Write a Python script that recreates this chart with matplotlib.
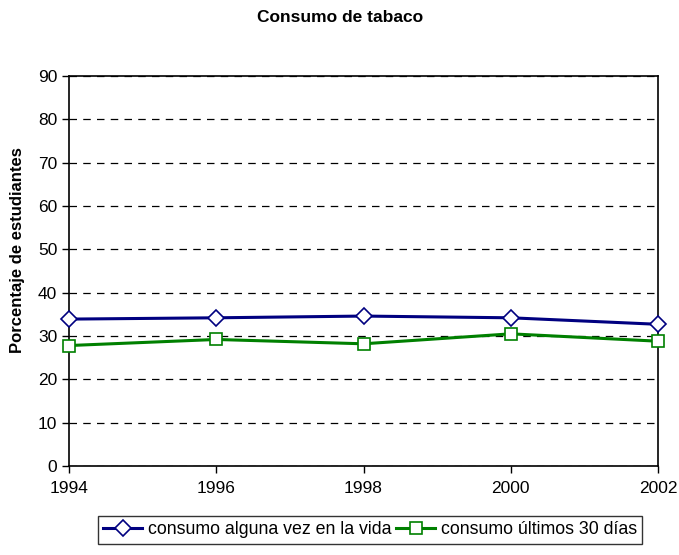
import matplotlib.pyplot as plt

# datos
anios = [1994, 1996, 1998, 2000, 2002]
alguna_vez = [33.9, 34.2, 34.6, 34.2, 32.7]
ultimos_30 = [27.8, 29.2, 28.2, 30.5, 28.8]
etiquetas = ['consumo alguna vez en la vida', 'consumo últimos 30 días']

plt.rcParams['font.family'] = ['Liberation Sans', 'DejaVu Sans']

fig = plt.figure(figsize=(6.79, 5.55), dpi=100)
ax = fig.add_axes([69 / 679, 1 - 466 / 555, (658 - 69) / 679, (466 - 76) / 555])

ax.plot(anios, alguna_vez, '-', color='#000080', linewidth=2.2,
        marker='D', markersize=8, markerfacecolor='white',
        markeredgecolor='#000080', markeredgewidth=1.2, label=etiquetas[0],
        clip_on=False, zorder=3)
ax.plot(anios, ultimos_30, '-', color='#008000', linewidth=2.2,
        marker='s', markersize=9, markerfacecolor='white',
        markeredgecolor='#008000', markeredgewidth=1.2, label=etiquetas[1],
        clip_on=False, zorder=3)

ax.set_xlim(1994, 2002)
ax.set_ylim(0, 90)
ax.set_xticks(anios)
ax.set_yticks(range(0, 91, 10))
ax.yaxis.grid(True, color='black', linestyle=(0, (6, 5)), linewidth=0.9)
ax.set_axisbelow(True)
for s in ax.spines.values():
    s.set_linewidth(1.2)
ax.tick_params(axis='both', labelsize=12.5, direction='out', length=5, width=1)
ax.tick_params(axis='x', pad=6)
ax.set_ylabel('Porcentaje de estudiantes', fontsize=12, fontweight='bold')
ax.yaxis.set_label_coords(-(69 - 25) / 589, (466 - 250) / 390)

fig.text(340.5 / 679, 1 - 17 / 555, 'Consumo de tabaco', fontsize=12.5,
         fontweight='bold', ha='center', va='center')

leg = fig.legend(loc='center', bbox_to_anchor=(370 / 679, 1 - 530 / 555), ncol=2,
                 fontsize=12.8, frameon=True, fancybox=False, handlelength=2.2,
                 handletextpad=0.3, columnspacing=0.3, borderpad=0.3)
leg.get_frame().set_edgecolor('black')
leg.get_frame().set_linewidth(1)

fig.savefig('out.png', dpi=100)
